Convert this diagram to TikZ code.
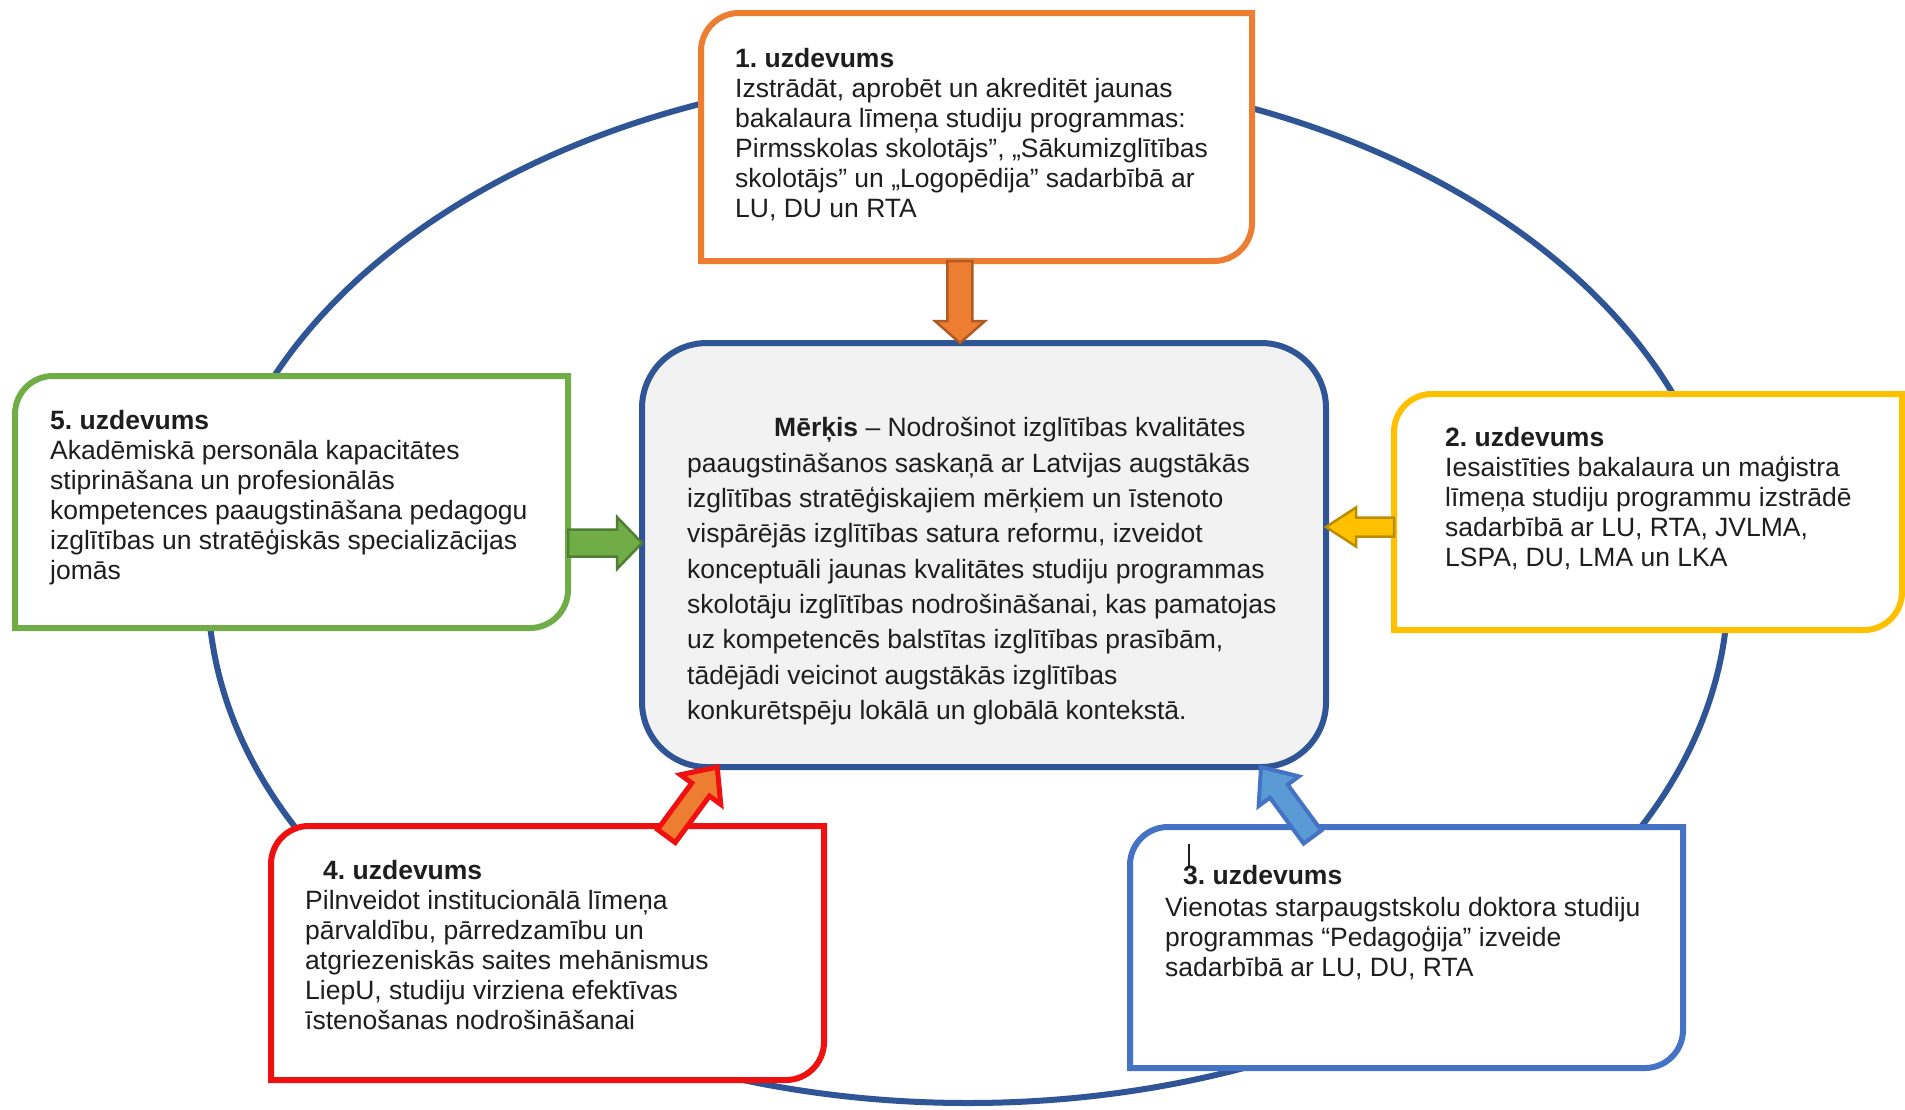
\documentclass[tikz,border=0pt]{standalone}
\usepackage{fontspec}
\setmainfont{Liberation Sans}
\usetikzlibrary{calc}
\frenchspacing
\definecolor{ellblue}{HTML}{2F5597}
\definecolor{goalblue}{HTML}{2F5597}
\definecolor{goalfill}{HTML}{F2F2F2}
\definecolor{orange1}{HTML}{ED7D31}
\definecolor{orange2}{HTML}{AE5A21}
\definecolor{green1}{HTML}{70AD47}
\definecolor{green2}{HTML}{507E32}
\definecolor{yellow1}{HTML}{FFC000}
\definecolor{yellow2}{HTML}{BC8C00}
\definecolor{red1}{HTML}{F01010}
\definecolor{blue1}{HTML}{4472C4}
\definecolor{blue2}{HTML}{5B9BD5}
\definecolor{textgray}{HTML}{1E1E1E}
\newcommand{\taskoutline}[2]{%
  \draw[taskline, draw=#2] ($(#1.north west)+(0,38)$) .. controls ($(#1.north west)+(0,17)$) and ($(#1.north west)+(17,0)$) .. ($(#1.north west)+(38,0)$) -- (#1.north east) -- ($(#1.south east)+(0,-38)$) .. controls ($(#1.south east)+(0,-17)$) and ($(#1.south east)+(-17,0)$) .. ($(#1.south east)+(-38,0)$) -- (#1.south west) -- cycle;}
\newcommand{\blockarr}[6]{%
  \coordinate (bah) at ($(#3)!#6!(#2)$);
  \draw[#1] ($(#2)!#4!90:(#3)$) -- ($(bah)!#4!90:(#3)$) -- ($(bah)!#5!90:(#3)$) -- (#3) -- ($(bah)!#5!-90:(#3)$) -- ($(bah)!#4!-90:(#3)$) -- ($(#2)!#4!-90:(#3)$) -- cycle;}
\begin{document}
\begin{tikzpicture}[x=1pt,y=-1pt,
  boxnode/.style={rectangle, inner sep=0pt, outer sep=0pt, draw=none},
  taskline/.style={line width=6pt, fill=white, line join=miter},
  tasktext/.style={anchor=north west, inner sep=0pt, align=left, text=textgray, font=\fontsize{26.5}{30}\selectfont},
  goaltext/.style={anchor=north west, inner sep=0pt, align=left, text=textgray, font=\fontsize{26.5}{35.3}\selectfont},
  arrO/.style={fill=orange1, draw=orange2, line width=2.5pt},
  arrG/.style={fill=green1, draw=green2, line width=2.5pt},
  arrY/.style={fill=yellow1, draw=yellow2, line width=2.5pt},
  arrR/.style={fill=orange1, draw=red1, line width=5pt},
  arrB/.style={fill=blue2, draw=blue1, line width=4pt}]
\useasboundingbox[fill=white] (0,0) rectangle (1905,1109);
% surrounding ellipse
\draw[ellblue, line width=6pt] (968,587) ellipse [x radius=760, y radius=516];
% central goal
\node[boxnode, draw=goalblue, fill=goalfill, line width=6pt, rounded corners=65pt, minimum width=684pt, minimum height=424pt] (goal) at (984,555) {};
% task boxes
\node[boxnode, minimum width=551pt, minimum height=248pt] (b1) at (976.5,137) {};
\node[boxnode, minimum width=553pt, minimum height=252pt] (b5) at (291.5,502) {};
\node[boxnode, minimum width=508pt, minimum height=236pt] (b2) at (1648,512) {};
\node[boxnode, minimum width=553pt, minimum height=254pt] (b4) at (547.5,953) {};
\node[boxnode, minimum width=553pt, minimum height=241pt] (b3) at (1406.5,947.5) {};
\taskoutline{b1}{orange1}
\taskoutline{b5}{green1}
\taskoutline{b2}{yellow1}
\taskoutline{b4}{red1}
\taskoutline{b3}{blue1}
% arrow end points
\coordinate (a1s) at ($(b1.south west)!0.47!(b1.south east)$);
\coordinate (a1e) at (a1s |- goal.north);
\coordinate (a5s) at ($(b5.east)+(0,41)$);
\coordinate (a5e) at (a5s -| goal.west);
\coordinate (a2s) at ($(b2.west)+(0,15)$);
\coordinate (a2e) at (a2s -| goal.east);
\coordinate (a4s) at ($($(b4.north west)!0.715!(b4.north east)$)+(0,10)$);
\coordinate (a4e) at ($(goal.south west)!0.11!(goal.south east)$);
\coordinate (a3s) at ($($(b3.north west)!0.33!(b3.north east)$)+(0,10)$);
\coordinate (a3e) at ($(goal.south west)!0.905!(goal.south east)$);
\blockarr{arrO}{a1s}{a1e}{12.5pt}{25pt}{22pt}
\blockarr{arrG}{a5s}{a5e}{13.5pt}{26pt}{25pt}
\blockarr{arrY}{a2s}{a2e}{9.5pt}{19.5pt}{30pt}
\blockarr{arrR}{a4s}{a4e}{11pt}{25pt}{28pt}
\blockarr{arrB}{a3s}{a3e}{11pt}{25pt}{30pt}
% texts
\node[goaltext] (tg) at (687,412) {\strut\hspace*{87pt}\textbf{Mērķis} – Nodrošinot izglītības kvalitātes\\
paaugstināšanos saskaņā ar Latvijas augstākās\\
izglītības stratēģiskajiem mērķiem un īstenoto\\
vispārējās izglītības satura reformu, izveidot\\
konceptuāli jaunas kvalitātes studiju programmas\\
skolotāju izglītības nodrošināšanai, kas pamatojas\\
uz kompetencēs balstītas izglītības prasībām,\\
tādējādi veicinot augstākās izglītības\\
konkurētspēju lokālā un globālā kontekstā.};
\node[tasktext] (t1) at (735,46) {\strut\textbf{1. uzdevums}\\
Izstrādāt, aprobēt un akreditēt jaunas\\
bakalaura līmeņa studiju programmas:\\
Pirmsskolas skolotājs”, „Sākumizglītības\\
skolotājs” un „Logopēdija” sadarbībā ar\\
LU, DU un RTA};
\node[tasktext] (t5) at (50,408) {\strut\textbf{5. uzdevums}\\
Akadēmiskā personāla kapacitātes\\
stiprināšana un profesionālās\\
kompetences paaugstināšana pedagogu\\
izglītības un stratēģiskās specializācijas\\
jomās};
\node[tasktext] (t2) at (1445,425) {\strut\textbf{2. uzdevums}\\
Iesaistīties bakalaura un maģistra\\
līmeņa studiju programmu izstrādē\\
sadarbībā ar LU, RTA, JVLMA,\\
LSPA, DU, LMA un LKA};
\node[tasktext] (t4) at (305,858) {\strut\hspace*{18pt}\textbf{4. uzdevums}\\
Pilnveidot institucionālā līmeņa\\
pārvaldību, pārredzamību un\\
atgriezeniskās saites mehānismus\\
LiepU, studiju virziena efektīvas\\
īstenošanas nodrošināšanai};
\node[tasktext] (t3) at (1165,863) {\strut\hspace*{18pt}\textbf{3. uzdevums}\\[2pt]
Vienotas starpaugstskolu doktora studiju\\
programmas “Pedagoģija” izveide\\
sadarbībā ar LU, DU, RTA};
% text cursor mark in box 3
\draw[textgray, line width=1.5pt] ($(t3.north west)+(24,-19)$) -- ($(t3.north west)+(24,4)$);
\end{tikzpicture}
\end{document}
